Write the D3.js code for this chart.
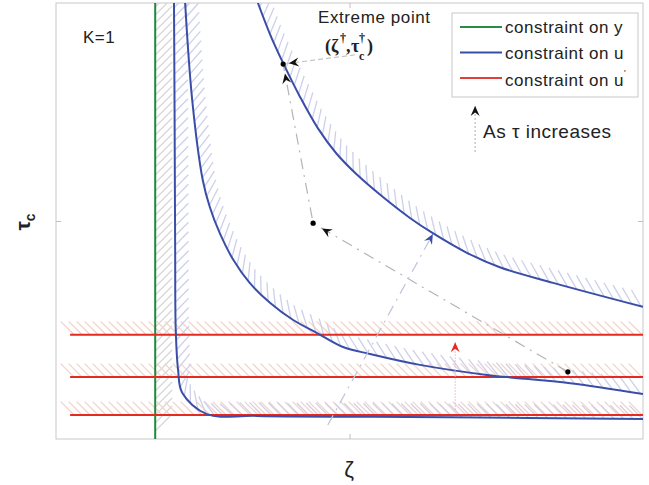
<!DOCTYPE html>
<html>
<head>
<meta charset="utf-8">
<script src="https://cdn.jsdelivr.net/npm/d3@7"></script>
<style>
  body { margin: 0; background: #fff; }
  text { font-family: "Liberation Sans", Arial, sans-serif; }
</style>
</head>
<body>
<div id="chart"></div>
<script>

// values, axes run 0..1 in both directions
var zetaTicks = [0.5];
var tauTicks = [0.5];

var yConstraintZeta = [0.169];
var uprimeLevels = [0.239, 0.142, 0.055];
var uprimeStartZeta = 0.024;

var uCurveInner = [[0.201, 1.0], [0.202, 0.75], [0.203, 0.433], [0.204, 0.25], [0.208, 0.158],
  [0.215, 0.106], [0.257, 0.057], [0.342, 0.053], [0.671, 0.050], [1.0, 0.046]];
var uCurveMiddle = [[0.220, 1.0], [0.232, 0.778], [0.250, 0.594], [0.262, 0.532], [0.279, 0.472],
  [0.302, 0.411], [0.330, 0.358], [0.365, 0.312], [0.404, 0.273], [0.445, 0.243],
  [0.489, 0.211], [0.535, 0.195], [0.620, 0.170], [0.734, 0.147], [0.876, 0.128], [1.0, 0.103]];
var uCurveOuter = [[0.344, 1.0], [0.365, 0.927], [0.387, 0.862], [0.416, 0.784], [0.446, 0.713],
  [0.477, 0.656], [0.513, 0.606], [0.557, 0.555], [0.603, 0.507], [0.642, 0.472],
  [0.700, 0.427], [0.756, 0.394], [0.847, 0.358], [1.0, 0.303]];

var tauPath = [[0.872, 0.154], [0.438, 0.495], [0.387, 0.860]];
var labelPointer = [[0.509, 0.881], [0.387, 0.860]];
var uArrow = [[0.463, 0.032], [0.642, 0.470]];
var uprimeArrow = [[0.680, 0.067], [0.680, 0.222]];
var tauArrow = [[0.714, 0.658], [0.714, 0.764]];

var legendLabels = ["constraint on y", "constraint on u", "constraint on u"];
var legendColors = ["#2a8a48", "#3a4ea8", "#e04038"];

var margin = {top: 3, right: 6, bottom: 46, left: 56},
    width = 649 - margin.left - margin.right,
    height = 485 - margin.top - margin.bottom;

var svg = d3.select("#chart")
  .append("svg")
    .attr("width", width + margin.left + margin.right)
    .attr("height", height + margin.top + margin.bottom)
  .append("g")
    .attr("transform", "translate(" + margin.left + "," + margin.top + ")");

var x = d3.scaleLinear().domain([0, 1]).range([0, width]);
var y = d3.scaleLinear().domain([0, 1]).range([height, 0]);

svg.append("clipPath").attr("id", "plotclip")
  .append("rect").attr("width", width).attr("height", height);

// frame + ticks (matlab style, inside, no labels)
svg.append("rect").attr("width", width).attr("height", height)
  .style("fill", "none").style("stroke", "#c8c8c8");
var axes = [
  [d3.axisBottom(x), "translate(0," + height + ")", zetaTicks],
  [d3.axisTop(x), "translate(0,0)", zetaTicks],
  [d3.axisLeft(y), "translate(0,0)", tauTicks],
  [d3.axisRight(y), "translate(" + width + ",0)", tauTicks]
];
axes.forEach(function(a) {
  var g = svg.append("g").attr("transform", a[1])
    .call(a[0].tickValues(a[2]).tickSizeInner(-5).tickSizeOuter(0).tickFormat(""));
  g.select(".domain").remove();
  g.selectAll("line").style("stroke", "#c0c0c0");
});

var plot = svg.append("g").attr("clip-path", "url(#plotclip)");
var hatchG = plot.append("g");
var lineG = plot.append("g");

var line = d3.line()
  .x(function(d) { return x(d[0]); })
  .y(function(d) { return y(d[1]); })
  .curve(d3.curveCatmullRom.alpha(0.5));
var straight = d3.line()
  .x(function(d) { return x(d[0]); })
  .y(function(d) { return y(d[1]); });

// short strokes on the infeasible side of a drawn path
function hatch(node, color, len, step) {
  var total = node.getTotalLength();
  for (var s = step / 2; s < total; s += step) {
    var p = node.getPointAtLength(s),
        p0 = node.getPointAtLength(Math.max(0, s - 2)),
        p1 = node.getPointAtLength(Math.min(total, s + 2));
    var tx = p1.x - p0.x, ty = p1.y - p0.y, tl = Math.hypot(tx, ty) || 1;
    tx /= tl; ty /= tl;
    var dx = ty - tx, dy = -tx - ty, dl = Math.hypot(dx, dy);
    hatchG.append("line")
      .attr("x1", p.x).attr("y1", p.y)
      .attr("x2", p.x + dx / dl * len).attr("y2", p.y + dy / dl * len)
      .style("stroke", color).style("stroke-width", 1.3);
  }
}

// constraint on y
yConstraintZeta.forEach(function(z) {
  var p = lineG.append("path")
    .attr("d", straight([[z, 1], [z, 0]]))
    .style("fill", "none").style("stroke", "#1f8a3c").style("stroke-width", 2);
  hatch(p.node(), "#d6d8d6", 24, 8);
});

// constraint on u'
uprimeLevels.forEach(function(t) {
  var p = lineG.append("path")
    .attr("d", straight([[uprimeStartZeta, t], [1, t]]))
    .style("fill", "none").style("stroke", "#e52a22").style("stroke-width", 2);
  hatch(p.node(), "#f5d2c6", 19, 8);
});

// constraint on u
[uCurveInner, uCurveMiddle, uCurveOuter].forEach(function(c) {
  var p = lineG.append("path")
    .attr("d", line(c))
    .style("fill", "none").style("stroke", "#3a4ea8").style("stroke-width", 2);
  hatch(p.node(), "#cdd0ea", 19, 9.5);
});

// arrow heads like matlab annotations
function arrowHead(pts, t, color) {
  var a = [x(pts[0][0]), y(pts[0][1])], b = [x(pts[1][0]), y(pts[1][1])];
  var px = a[0] + (b[0] - a[0]) * t, py = a[1] + (b[1] - a[1]) * t;
  var ang = Math.atan2(b[1] - a[1], b[0] - a[0]) * 180 / Math.PI;
  svg.append("path")
    .attr("d", "M0,0 L-10,-4.5 L-6.5,0 L-10,4.5 Z")
    .attr("transform", "translate(" + px + "," + py + ") rotate(" + ang + ")")
    .style("fill", color);
}

var annot = svg.append("g");
function annotLine(pts, color, dash, w) {
  annot.append("path").attr("d", straight(pts))
    .style("fill", "none").style("stroke", color).style("stroke-width", w)
    .style("stroke-dasharray", dash);
}
annotLine(tauPath, "#b4b4b4", "11,6,2,6", 1.2);
annotLine(labelPointer, "#c4c4c4", "5,3", 1.2);
annotLine(uArrow, "#c0c4d6", "11,6,2,6", 1.2);
annotLine(uprimeArrow, "#f0b0b0", "1.5,1.5", 1);
annotLine(tauArrow, "#bcbcbc", "2,2", 1.2);

arrowHead([tauPath[0], tauPath[1]], 0.965, "#111");
arrowHead([tauPath[1], tauPath[2]], 0.94, "#111");
arrowHead(labelPointer, 0.92, "#111");
arrowHead(uArrow, 1, "#3a4ea8");
arrowHead(uprimeArrow, 1, "#e52a22");
arrowHead(tauArrow, 1, "#111");

annot.selectAll("circle").data(tauPath).enter().append("circle")
  .attr("cx", function(d) { return x(d[0]); })
  .attr("cy", function(d) { return y(d[1]); })
  .attr("r", 2.6).style("fill", "#000");

// legend
var lg = svg.append("g").attr("transform", "translate(" + (452 - margin.left) + "," + (13 - margin.top) + ")");
lg.append("rect").attr("width", 186).attr("height", 84)
  .style("fill", "#fff").style("stroke", "#c8c8c8");
legendLabels.forEach(function(l, i) {
  var yy = 14 + i * 25.5;
  lg.append("line").attr("x1", 8).attr("x2", 50).attr("y1", yy).attr("y2", yy)
    .style("stroke", legendColors[i]).style("stroke-width", 2);
  var t = lg.append("text").attr("x", 53).attr("y", yy + 6 + (i == 2 ? 2 : 0))
    .style("font-size", "17px").style("letter-spacing", "0.5px").style("fill", "#222").text(l);
  if (i == 2) t.append("tspan").attr("dy", -10).style("font-size", "9px").text("'");
});

// texts
svg.append("text").attr("x", 83 - margin.left).attr("y", 43 - margin.top)
  .style("font-size", "17px").style("letter-spacing", "0.5px").style("fill", "#222").text("K=1");
svg.append("text").attr("x", 318 - margin.left).attr("y", 23 - margin.top)
  .style("font-size", "17px").style("letter-spacing", "0.6px").style("fill", "#222").text("Extreme point");

function epText(s, px, py, size) {
  svg.append("text").attr("x", px - margin.left).attr("y", py - margin.top)
    .style("font-size", size + "px").style("font-weight", "bold").style("fill", "#222")
    .style("font-family", "'Liberation Serif', serif").text(s);
}
epText("(", 325, 52, 18);
epText("ζ", 331, 52, 18);
epText("†", 340, 42, 12);
epText(",", 346, 52, 18);
epText("τ", 351, 52, 18);
epText("†", 359, 42, 12);
epText("c", 359, 60, 12);
epText(")", 367, 52, 18);

svg.append("text").attr("x", 483 - margin.left).attr("y", 138 - margin.top)
  .style("font-size", "19px").style("letter-spacing", "0.5px").style("fill", "#222").text("As τ increases");

svg.append("text").attr("x", 349 - margin.left).attr("y", 477 - margin.top)
  .attr("text-anchor", "middle")
  .style("font-size", "22px").style("fill", "#222").text("ζ");

var yl = svg.append("text")
  .attr("transform", "translate(" + (30 - margin.left) + "," + (222 - margin.top) + ") rotate(-90)")
  .attr("text-anchor", "middle")
  .style("font-size", "21px").style("font-weight", "bold").style("fill", "#222");
yl.append("tspan").text("τ");
yl.append("tspan").attr("dy", 5).style("font-size", "14px").text("c");

</script>
</body>
</html>
